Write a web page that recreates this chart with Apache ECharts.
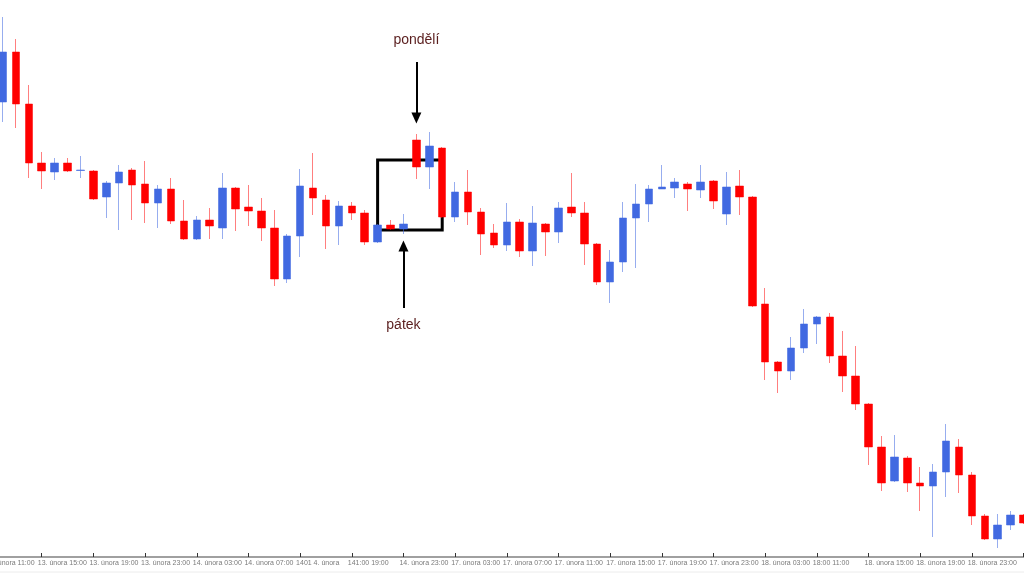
<!DOCTYPE html>
<html>
<head>
<meta charset="utf-8">
<script src="https://cdn.jsdelivr.net/npm/echarts@6/dist/echarts.min.js"></script>
<style>html,body{margin:0;padding:0;background:#fff}#c{width:1024px;height:575px}</style>
</head>
<body>
<div id="c"></div>
<script>
// Hourly candles, 13.–19. února (first category is the hour just left of the view)
var leadingCategory = "13. února 11:00";
var categories = [
 "13. února 12:00","13. února 13:00","13. února 14:00","13. února 15:00","13. února 16:00","13. února 17:00",
 "13. února 18:00","13. února 19:00","13. února 20:00","13. února 21:00","13. února 22:00","13. února 23:00",
 "14. února 00:00","14. února 01:00","14. února 02:00","14. února 03:00","14. února 04:00","14. února 05:00",
 "14. února 06:00","14. února 07:00",
 "14. února 12:00","14. února 13:00","14. února 14:00","14. února 15:00","14. února 16:00","14. února 17:00",
 "14. února 18:00","14. února 19:00","14. února 20:00","14. února 21:00","14. února 22:00","14. února 23:00",
 "17. února 00:00","17. února 01:00","17. února 02:00","17. února 03:00","17. února 04:00","17. února 05:00",
 "17. února 06:00","17. února 07:00","17. února 08:00","17. února 09:00","17. února 10:00","17. února 11:00",
 "17. února 12:00","17. února 13:00","17. února 14:00","17. února 15:00","17. února 16:00","17. února 17:00",
 "17. února 18:00","17. února 19:00","17. února 20:00","17. února 21:00","17. února 22:00","17. února 23:00",
 "18. února 00:00","18. února 01:00","18. února 02:00","18. února 03:00","18. února 04:00","18. února 05:00",
 "18. února 06:00","18. února 07:00",
 "18. února 12:00","18. února 13:00","18. února 14:00","18. února 15:00","18. února 16:00","18. února 17:00",
 "18. února 18:00","18. února 19:00","18. února 20:00","18. února 21:00","18. února 22:00","18. února 23:00",
 "19. února 00:00","19. února 01:00","19. února 02:00","19. února 03:00"
];

var opens = [
 1.08810,1.08910,1.08806,1.08688,1.08670,1.08688,1.08673,1.08672,1.08620,1.08648,
 1.08674,1.08646,1.08608,1.08636,1.08572,1.08536,1.08574,1.08558,1.08638,1.08600,
 1.08592,1.08558,1.08456,1.08542,1.08638,1.08614,1.08562,1.08602,1.08588,1.08530,
 1.08564,1.08556,1.08734,1.08680,1.08718,1.08580,1.08630,1.08590,1.08548,1.08524,
 1.08570,1.08512,1.08566,1.08550,1.08600,1.08588,1.08526,1.08450,1.08490,1.08578,
 1.08606,1.08636,1.08638,1.08646,1.08634,1.08652,1.08586,1.08642,1.08620,1.08406,
 1.08290,1.08272,1.08318,1.08366,1.08380,1.08302,1.08262,1.08206,1.08120,1.08052,
 1.08098,1.08048,1.08042,1.08070,1.08120,1.08064,1.07982,1.07936,1.07964,1.07984
];
var closes = [
 1.08910,1.08806,1.08688,1.08672,1.08688,1.08672,1.08674,1.08616,1.08648,1.08670,
 1.08644,1.08608,1.08636,1.08572,1.08536,1.08574,1.08562,1.08638,1.08596,1.08592,
 1.08558,1.08456,1.08542,1.08642,1.08618,1.08562,1.08602,1.08588,1.08530,1.08564,
 1.08556,1.08566,1.08680,1.08722,1.08580,1.08630,1.08590,1.08546,1.08524,1.08570,
 1.08512,1.08568,1.08550,1.08598,1.08588,1.08526,1.08450,1.08490,1.08578,1.08606,
 1.08636,1.08640,1.08650,1.08636,1.08650,1.08612,1.08640,1.08620,1.08402,1.08290,
 1.08272,1.08318,1.08366,1.08380,1.08302,1.08262,1.08206,1.08120,1.08048,1.08100,
 1.08048,1.08042,1.08070,1.08132,1.08064,1.07982,1.07936,1.07964,1.07984,1.07968
];
var lows = [
 1.08770,1.08758,1.08658,1.08636,1.08654,1.08670,1.08658,1.08614,1.08578,1.08554,
 1.08574,1.08568,1.08558,1.08566,1.08534,1.08534,1.08536,1.08536,1.08552,1.08562,
 1.08532,1.08442,1.08448,1.08500,1.08584,1.08516,1.08524,1.08574,1.08524,1.08528,
 1.08554,1.08546,1.08656,1.08636,1.08578,1.08570,1.08564,1.08504,1.08518,1.08512,
 1.08500,1.08482,1.08502,1.08528,1.08580,1.08484,1.08444,1.08408,1.08470,1.08478,
 1.08570,1.08636,1.08618,1.08592,1.08618,1.08596,1.08564,1.08584,1.08400,1.08254,
 1.08228,1.08254,1.08308,1.08326,1.08288,1.08230,1.08194,1.08084,1.08032,1.08050,
 1.08030,1.07992,1.07940,1.08020,1.08028,1.07964,1.07934,1.07918,1.07954,1.07966
];
var highs = [
 1.08980,1.08936,1.08844,1.08710,1.08698,1.08698,1.08702,1.08674,1.08652,1.08684,
 1.08678,1.08692,1.08644,1.08658,1.08614,1.08582,1.08598,1.08668,1.08640,1.08644,
 1.08618,1.08594,1.08546,1.08676,1.08708,1.08624,1.08612,1.08610,1.08594,1.08566,
 1.08574,1.08586,1.08746,1.08750,1.08720,1.08650,1.08674,1.08598,1.08566,1.08608,
 1.08576,1.08602,1.08568,1.08610,1.08668,1.08610,1.08528,1.08514,1.08610,1.08646,
 1.08644,1.08684,1.08658,1.08650,1.08684,1.08654,1.08670,1.08674,1.08622,1.08438,
 1.08292,1.08340,1.08396,1.08382,1.08388,1.08352,1.08322,1.08208,1.08142,1.08144,
 1.08102,1.08080,1.08086,1.08166,1.08136,1.08070,1.07986,1.07986,1.07992,1.07986
];

// Axis tick labels as printed (every 4th hour slot)
var tickLabels = [
 "13. února 11:00",
 "13. února 15:00","13. února 19:00","13. února 23:00","14. února 03:00","14. února 07:00",
 "1401 4. února","141:00 19:00","14. února 23:00","17. února 03:00","17. února 07:00",
 "17. února 11:00","17. února 15:00","17. února 19:00","17. února 23:00","18. února 03:00",
 "18:00 11:00","18. února 15:00","18. února 19:00","18. února 23:00"
];

// Annotations: [category, price]
var mondayArrow = [["17. února 00:00", 1.08890], ["17. února 00:00", 1.08778]];
var fridayArrow = [["14. února 23:00", 1.08398], ["14. února 23:00", 1.08522]];
var boxCorners = [["14. února 21:00", 1.08694], ["17. února 02:00", 1.08554]];
var mondayLabel = ["17. února 00:00", 1.08934, "pondělí"];
var fridayLabel = ["14. února 23:00", 1.08364, "pátek"];

var axisCategories = [leadingCategory].concat(categories);
var ohlc = ['-'].concat(categories.map(function (c, i) { return [opens[i], closes[i], lows[i], highs[i]]; }));

var chart = echarts.init(document.getElementById('c'), null, { renderer: 'canvas' });
chart.setOption({
  animation: false,
  backgroundColor: '#ffffff',
  grid: { left: -16.4, right: -6, top: 0, bottom: 18, containLabel: false, outerBoundsMode: 'none' },
  xAxis: {
    type: 'category',
    data: axisCategories,
    boundaryGap: true,
    axisLine: { show: true, lineStyle: { color: '#a0a0a0', width: 2 } },
    axisTick: {
      show: true, inside: true, length: 4, alignWithLabel: true,
      interval: 3,
      lineStyle: { color: '#333', width: 1 }
    },
    axisLabel: {
      show: true,
      hideOverlap: false,
      showMinLabel: true,
      interval: 3,
      formatter: function (v, i) { return tickLabels[i / 4] || ''; },
      align: 'left',
      padding: [0, 0, 0, -4],
      margin: 3,
      color: '#7a7a7a',
      fontSize: 7,
      fontFamily: '"Liberation Sans", Arial, sans-serif'
    },
    splitLine: { show: false }
  },
  yAxis: {
    type: 'value', min: 1.0790, max: 1.09014, show: false,
    splitLine: { show: false }
  },
  series: [{
    type: 'candlestick',
    data: ohlc,
    barWidth: 8,
    itemStyle: {
      color: '#4169e1', color0: '#ff0000',
      borderColor: 'rgba(65,105,225,0.55)', borderColor0: 'rgba(255,0,0,0.5)',
      borderWidth: 1
    },
    markArea: {
      silent: true,
      itemStyle: { color: 'rgba(0,0,0,0)', borderColor: '#000', borderWidth: 3 },
      data: [[{ coord: boxCorners[0] }, { coord: boxCorners[1] }]]
    },
    markLine: {
      silent: true,
      symbol: ['none', 'triangle'],
      symbolSize: [10, 11],
      label: { show: false },
      lineStyle: { color: '#000', width: 2, type: 'solid' },
      data: [
        [{ coord: mondayArrow[0] }, { coord: mondayArrow[1] }],
        [{ coord: fridayArrow[0] }, { coord: fridayArrow[1] }]
      ]
    }
  }]
});

function labelGraphic(spec) {
  var p = chart.convertToPixel({ seriesIndex: 0 }, [spec[0], spec[1]]);
  return {
    type: 'text', x: p[0], y: p[1], silent: true,
    style: {
      text: spec[2], fill: '#5a1e1e', font: '14px "Liberation Sans", Arial, sans-serif',
      textAlign: 'center', textVerticalAlign: 'middle'
    }
  };
}
chart.setOption({
  graphic: [
    labelGraphic(mondayLabel),
    labelGraphic(fridayLabel),
    { type: 'line', silent: true, shape: { x1: 0, y1: 572, x2: 1024, y2: 572 }, style: { stroke: '#ececec', lineWidth: 1 } }
  ]
});
</script>
</body>
</html>
